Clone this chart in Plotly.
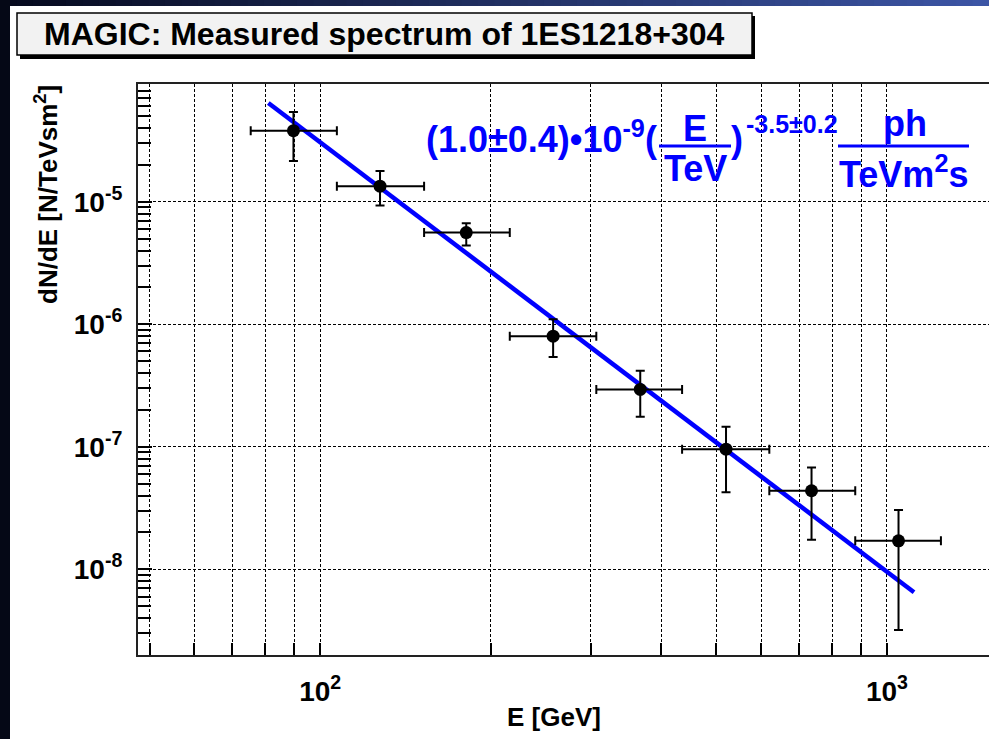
import plotly.graph_objects as go

# ---------------- data ----------------
energy_gev = [89.7, 127.5, 181.0, 257.6, 367.0, 520.0, 736.0, 1048.0]
flux = [3.8e-5, 1.34e-5, 5.6e-6, 8.0e-7, 2.94e-7, 9.57e-8, 4.38e-8, 1.71e-8]
energy_low = [75.4, 107.0, 152.5, 216.0, 307.0, 435.0, 620.0, 879.0]
energy_high = [107.0, 152.5, 216.0, 307.0, 435.0, 620.0, 879.0, 1245.0]
flux_high = [5.4e-5, 1.78e-5, 6.67e-6, 1.1e-6, 4.17e-7, 1.46e-7, 6.79e-8, 3.05e-8]
flux_low = [2.15e-5, 9.3e-6, 4.4e-6, 5.4e-7, 1.76e-7, 4.25e-8, 1.74e-8, 3.2e-9]

fit_energy = [81.0, 1116.0]
fit_flux = [6.4e-5, 6.5e-9]

x_major = [100, 1000]
x_major_text = ["<b>10<sup>2</sup></b>", "<b>10<sup>3</sup></b>"]
x_minor = [50, 60, 70, 80, 90, 200, 300, 400, 500, 600, 700, 800, 900]
y_major = [1e-8, 1e-7, 1e-6, 1e-5]
y_major_text = ["<b>10<sup>-8</sup></b>", "<b>10<sup>-7</sup></b>",
                "<b>10<sup>-6</sup></b>", "<b>10<sup>-5</sup></b>"]
y_minor = [m * 10.0 ** e for e in (-9, -8, -7, -6, -5) for m in range(2, 10)]

title_text = "MAGIC: Measured spectrum of 1ES1218+304"
x_title = "E [GeV]"
y_title = "dN/dE [N/TeVsm<sup>2</sup>]"

# ---------------- layout geometry (pixels) ----------------
W, H = 989, 739
L, R, T, B = 138, 0, 84, 84
PW, PH = W - L - R, H - T - B


def px(x):
    return (x - L) / PW


def py(y):
    return (H - B - y) / PH


FONT = "Liberation Sans, Arial, Helvetica, sans-serif"
BLUE = "#0000ff"

fig = go.Figure()

fig.add_trace(go.Scatter(
    x=fit_energy, y=fit_flux, mode="lines",
    line=dict(color=BLUE, width=4.5), hoverinfo="skip", showlegend=False))

fig.add_trace(go.Scatter(
    x=energy_gev, y=flux, mode="markers",
    marker=dict(color="black", size=13, symbol="circle"),
    error_x=dict(type="data", symmetric=False,
                 array=[h - e for h, e in zip(energy_high, energy_gev)],
                 arrayminus=[e - l for e, l in zip(energy_gev, energy_low)],
                 color="black", thickness=2, width=4.5),
    error_y=dict(type="data", symmetric=False,
                 array=[h - f for h, f in zip(flux_high, flux)],
                 arrayminus=[f - l for f, l in zip(flux, flux_low)],
                 color="black", thickness=2, width=4.5),
    showlegend=False))

fig.update_xaxes(
    type="log", range=[1.6785, 3.18],
    tickmode="array", tickvals=x_major, ticktext=x_major_text,
    ticks="inside", ticklen=12, tickwidth=1.5, tickcolor="black",
    showgrid=True, gridcolor="black", gridwidth=1, griddash="3px,2px",
    minor=dict(tickvals=x_minor, ticks="inside", ticklen=12, tickwidth=1.5,
               tickcolor="black", showgrid=True, gridcolor="black",
               gridwidth=1, griddash="3px,2px"),
    showline=True, linecolor="#222222", linewidth=2, mirror=True,
    zeroline=False, automargin=False,
    tickfont=dict(family=FONT, size=28, color="black"),
    ticklabelstandoff=10,
)
fig.update_yaxes(
    type="log", range=[-8.699, -4.039],
    tickmode="array", tickvals=y_major, ticktext=y_major_text,
    ticks="inside", ticklen=14, tickwidth=1.5, tickcolor="black",
    showgrid=True, gridcolor="black", gridwidth=1, griddash="3px,2px",
    minor=dict(tickvals=y_minor, ticks="inside", ticklen=13, tickwidth=1.5,
               tickcolor="black", showgrid=False),
    showline=True, linecolor="#222222", linewidth=2, mirror=False,
    zeroline=False, automargin=False,
    tickfont=dict(family=FONT, size=28, color="black"),
    ticklabelstandoff=8,
)

shapes = []
# dark frame strips (top gradient, left)
N = 60
c0 = (6, 10, 30)
c1 = (60, 85, 165)
for i in range(N):
    t = i / (N - 1)
    col = "rgb(%d,%d,%d)" % tuple(int(a + (b - a) * t) for a, b in zip(c0, c1))
    shapes.append(dict(type="rect", xref="paper", yref="paper",
                       x0=px(i * W / N), x1=px((i + 1) * W / N + 1),
                       y0=py(6), y1=py(0), fillcolor=col, line=dict(width=0),
                       layer="above"))
shapes.append(dict(type="rect", xref="paper", yref="paper",
                   x0=px(0), x1=px(10), y0=py(H), y1=py(0),
                   fillcolor="rgb(5,8,22)", line=dict(width=0), layer="above"))
# title box with shadow
shapes.append(dict(type="rect", xref="paper", yref="paper",
                   x0=px(20), x1=px(755), y0=py(59), y1=py(16),
                   fillcolor="black", line=dict(width=0), layer="above"))
shapes.append(dict(type="rect", xref="paper", yref="paper",
                   x0=px(17), x1=px(752), y0=py(55), y1=py(13),
                   fillcolor="#f2f2f2", line=dict(color="black", width=1.5),
                   layer="above"))
# fraction bars of the fit formula
shapes.append(dict(type="line", xref="paper", yref="paper",
                   x0=px(659), x1=px(731), y0=py(146), y1=py(146),
                   line=dict(color=BLUE, width=3), layer="above"))
shapes.append(dict(type="line", xref="paper", yref="paper",
                   x0=px(838), x1=px(969), y0=py(146), y1=py(146),
                   line=dict(color=BLUE, width=3), layer="above"))

fig.update_layout(shapes=shapes)


def ann(text, x, y, size, color="black", xanchor="center", yanchor="middle",
        angle=0):
    fig.add_annotation(text=text, x=px(x), y=py(y), xref="paper", yref="paper",
                       showarrow=False, xanchor=xanchor, yanchor=yanchor,
                       textangle=angle,
                       font=dict(family=FONT, size=size, color=color))


ann("<b>" + title_text + "</b>", 384, 34, 32)
ann("<b>" + x_title + "</b>", 554, 717, 26)
ann("<b>" + y_title + "</b>", 46, 195, 26, angle=-90)

# fit formula pieces
ann("<b>(1.0±0.4)•10<sup>-9</sup>(</b>", 424, 137, 36, BLUE, xanchor="left")
ann("<b>E</b>", 695, 129, 36, BLUE)
ann("<b>TeV</b>", 695, 168, 36, BLUE)
ann("<b>)</b>", 737, 140, 36, BLUE)
ann("<b>-3.5±0.2</b>", 744, 124, 25, BLUE, xanchor="left")
ann("<b>ph</b>", 905, 124, 36, BLUE)
ann("<b>TeVm<sup>2</sup>s</b>", 903, 172, 36, BLUE)

fig.update_layout(
    width=W, height=H,
    margin=dict(l=L, r=R, t=T, b=B, pad=0, autoexpand=False),
    paper_bgcolor="white", plot_bgcolor="white",
    showlegend=False,
)

fig.write_html(
    "out.html",
    config={"displayModeBar": False},
    post_script="document.body.style.margin='0';"
                "document.body.style.overflow='hidden';",
)
